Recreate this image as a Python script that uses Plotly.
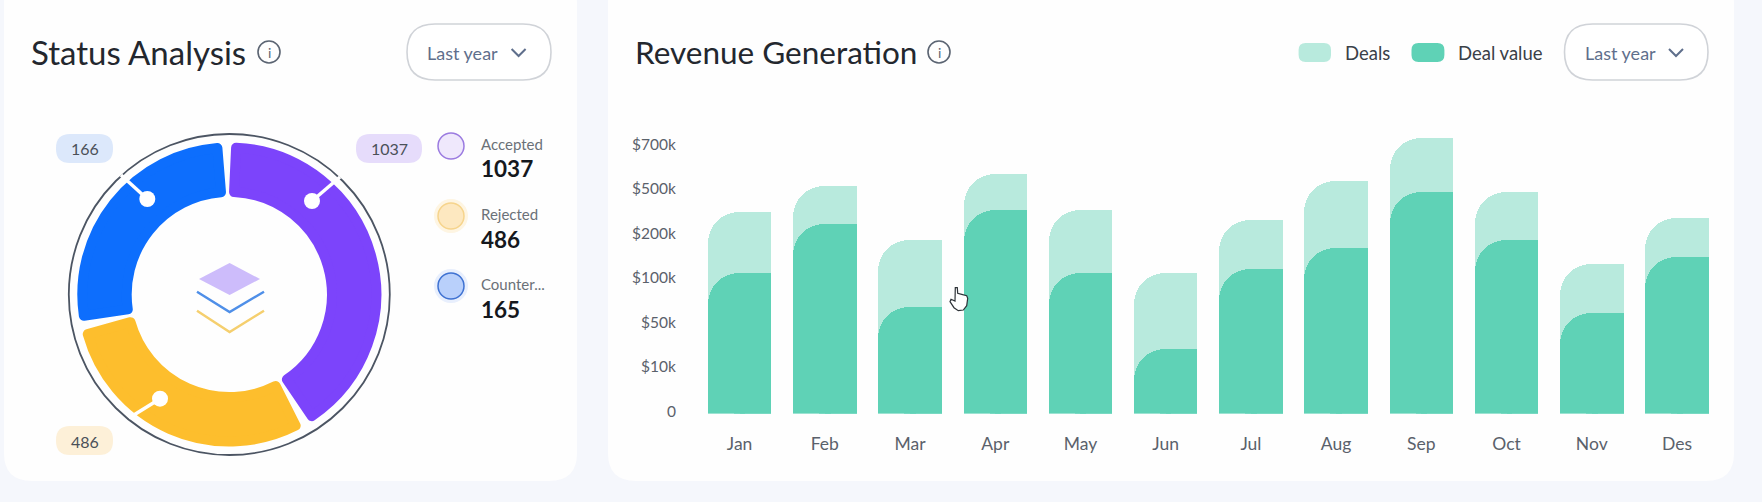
import numpy as np
import plotly.graph_objects as go

W, H = 1762, 502
FONT = "Lato"

# ---------- data ----------
months = ["Jan", "Feb", "Mar", "Apr", "May", "Jun", "Jul", "Aug", "Sep", "Oct", "Nov", "Des"]
deals = [360, 522, 191, 575, 372, 115, 304, 546, 740, 491, 137, 320]        # $k, as read
deal_value = [115, 277, 70, 372, 115, 28, 125, 171, 491, 191, 63, 151]       # $k, as read
tick_stops = [0, 10, 50, 100, 200, 500, 700, 900]
tick_labels = ["0", "$10k", "$50k", "$100k", "$200k", "$500k", "$700k"]

status_names = ["Accepted", "Rejected", "Counter..."]
status_counts = [1037, 486, 165]
status_pills = ["1037", "486", "166"]
slice_degrees = [143.2, 101.2, 93.7]   # drawn arc of each slice, as read
gap_degrees = 7.3
slice_colors = ["#7c44fb", "#fdbe2d", "#0d6efd"]


def px(x):
    return x / W


def py(y):
    return 1 - y / H


def rrect(x0, y0, x1, y1, r):
    """Rounded rectangle path, in paper fractions."""
    pts = [
        f"M {px(x0 + r)} {py(y0)}", f"L {px(x1 - r)} {py(y0)}",
        f"Q {px(x1)} {py(y0)} {px(x1)} {py(y0 + r)}", f"L {px(x1)} {py(y1 - r)}",
        f"Q {px(x1)} {py(y1)} {px(x1 - r)} {py(y1)}", f"L {px(x0 + r)} {py(y1)}",
        f"Q {px(x0)} {py(y1)} {px(x0)} {py(y1 - r)}", f"L {px(x0)} {py(y0 + r)}",
        f"Q {px(x0)} {py(y0)} {px(x0 + r)} {py(y0)}", "Z",
    ]
    return " ".join(pts)


shapes, notes = [], []


def add_rrect(x0, y0, x1, y1, r, fill, line=None, lw=0, layer="below"):
    shapes.append(dict(type="path", xref="paper", yref="paper", path=rrect(x0, y0, x1, y1, r),
                       fillcolor=fill, line=dict(color=line or "rgba(0,0,0,0)", width=lw), layer=layer))


def add_circle(cx, cy, r, fill="rgba(0,0,0,0)", line=None, lw=0, opacity=1, layer="above"):
    shapes.append(dict(type="circle", xref="paper", yref="paper",
                       x0=px(cx - r), x1=px(cx + r), y0=py(cy + r), y1=py(cy - r),
                       fillcolor=fill, opacity=opacity,
                       line=dict(color=line or "rgba(0,0,0,0)", width=lw), layer=layer))


def add_poly(points, fill=None, line=None, lw=0, layer="above"):
    d = "M " + " L ".join(f"{px(a)} {py(b)}" for a, b in points)
    if fill:
        d += " Z"
    shapes.append(dict(type="path", xref="paper", yref="paper", path=d,
                       fillcolor=fill or "rgba(0,0,0,0)",
                       line=dict(color=line or "rgba(0,0,0,0)", width=lw), layer=layer))


def add_text(x, y, s, size, color, anchor="left", bold=False):
    notes.append(dict(xref="paper", yref="paper", x=px(x), y=py(y), text=f"<b>{s}</b>" if bold else s,
                      showarrow=False, xanchor=anchor, yanchor="middle",
                      font=dict(family=FONT, size=size, color=color)))


# ---------- cards ----------
CARD = "#fefefe"
add_rrect(4, -24, 577, 481, 28, CARD)
add_rrect(608, -24, 1734, 481, 28, CARD)

# ---------- headers ----------
add_text(29, 52, "Status Analysis", 33, "#23272e")
add_text(633, 52, "Revenue Generation", 31.5, "#23272e")
for cx in (269, 939):
    add_circle(cx, 52, 11, line="#5b6472", lw=1.6)
    add_text(cx, 52, "i", 14, "#5b6472", anchor="center")
for x0, x1, tx, cvx in ((407, 551, 463, 518.6), (1564.5, 1708, 1620, 1676)):
    add_rrect(x0, 24, x1, 80, 28, "#ffffff", line="#d0d3d8", lw=1.6)
    add_text(tx, 53, "Last year", 18, "#5f6f8c", anchor="center")
    add_poly([(cvx - 7, 49), (cvx, 56), (cvx + 7, 49)], line="#5f6f8c", lw=2)

# ---------- revenue legend ----------
add_rrect(1298.6, 43, 1331, 62, 7, "#b8eadd")
add_text(1343, 53, "Deals", 18.5, "#3a4048")
add_rrect(1411.5, 43, 1444.4, 62, 7, "#5fd2b6")
add_text(1456, 53, "Deal value", 18.5, "#3a4048")

# ---------- donut decoration ----------
CX, CY = 229.3, 294.5
add_circle(CX, CY, 160.5, line="#4c5563", lw=1.8)
for (a, b, c, d) in ((312, 201, 340, 177), (147.3, 199, 121, 175), (160, 398.7, 129, 418)):
    add_poly([(a, b), (c, d)], line="#ffffff", lw=3.5)
    add_circle(a, b, 8, fill="#ffffff")
for x0, x1, y0, fill, s in ((56, 113, 134, "#dce8fb", status_pills[2]),
                            (356, 422, 134, "#e6dcfb", status_pills[0]),
                            (56, 113, 426, "#fdf0d8", status_pills[1])):
    add_rrect(x0, y0, x1, y0 + 29, 14, fill)
    add_text((x0 + x1) / 2, y0 + 15, s, 16, "#4a5058", anchor="center")
add_poly([(199, 279), (229.6, 263), (260, 279), (229.6, 295)], fill="#cdbcfb")
add_poly([(197, 291.7), (229.6, 312), (264, 291.7)], line="#4f8fe8", lw=2.4)
add_poly([(197, 310.7), (229.6, 332), (264, 310.7)], line="#f5cf6e", lw=2.4)

# ---------- status legend ----------
legend_style = [("#efe8fc", "#9b7be0", None), ("#fde8c0", "#f6d48c", "#fdeccb"), ("#b9d0fb", "#3f72d2", "#d5e2fc")]
for name, count, cy, (fill, line, glow) in zip(status_names, status_counts, (146, 216, 286), legend_style):
    if glow:
        add_circle(451, cy, 17, fill=glow, opacity=0.55)
    add_circle(451, cy, 13, fill=fill, line=line, lw=1.5)
    add_text(478.5, cy - 2, name, 15, "#6b7178")
    add_text(478.5, cy + 23, str(count), 22.5, "#15181d", bold=True)

# ---------- mouse pointer captured in the screenshot ----------
add_poly([(955.3, 287.7), (957.3, 287.7), (957.7, 293.3), (961.7, 294.3), (966.7, 295.7), (967.7, 298.3),
          (966.7, 305.7), (963.3, 310), (958.3, 310.7), (954, 307.7), (950, 301.7), (951, 299.3), (955, 301)],
         fill="#ffffff", line="#2e3338", lw=1.2)

# ---------- traces ----------
fig = go.Figure()

pie_values, pie_labels, pie_colors, pie_lines, pie_widths = [], [], [], [], []
for i, (name, deg, col) in enumerate(zip(status_names, slice_degrees, slice_colors)):
    pie_values += [deg, gap_degrees]
    pie_labels += [name, f"gap{i}"]
    pie_colors += [col, "rgba(0,0,0,0)"]
    pie_lines += [col, "rgba(0,0,0,0)"]
    pie_widths += [10, 0]
R_OUT = 147
R_IN = 102.6
fig.add_trace(go.Pie(
    values=pie_values, labels=pie_labels, sort=False, direction="clockwise",
    rotation=2.65, hole=R_IN / R_OUT, textinfo="none", hoverinfo="skip", showlegend=False,
    marker=dict(colors=pie_colors, line=dict(color=pie_lines, width=pie_widths)),
    domain=dict(x=[px(CX - R_OUT), px(CX + R_OUT)], y=[py(CY + R_OUT), py(CY - R_OUT)]),
))

stops_idx = list(range(len(tick_stops)))
deals_pos = np.interp(deals, tick_stops, stops_idx)
value_pos = np.interp(deal_value, tick_stops, stops_idx)
zero_base = [0] * len(months)
BAR_W = 0.745
for pos, color, name in ((deals_pos, "#b8eadd", "Deals"), (value_pos, "#5fd2b6", "Deal value")):
    # rounded bar (an explicit base keeps the rounding on the shorter, overlaid series)
    fig.add_trace(go.Bar(x=months, y=pos, base=zero_base, name=name, width=BAR_W,
                         marker=dict(color=color, cornerradius=31, line_width=0),
                         showlegend=False, hoverinfo="skip"))
    # square top-right corner
    fig.add_trace(go.Bar(x=months, y=pos, base=zero_base, name=name, width=BAR_W / 2, offset=0,
                         marker=dict(color=color, line_width=0),
                         showlegend=False, hoverinfo="skip"))
    # square foot
    fig.add_trace(go.Bar(x=months, y=pos * 0.5, base=zero_base, name=name, width=BAR_W,
                         marker=dict(color=color, line_width=0),
                         showlegend=False, hoverinfo="skip"))

TOP, BOTTOM = 120, 413.5
UNIT = 44.5
fig.update_layout(
    width=W, height=H, autosize=False, margin=dict(l=0, r=0, t=0, b=0),
    paper_bgcolor="#f5f7fc", plot_bgcolor="rgba(0,0,0,0)", barmode="overlay", bargap=0,
    font=dict(family=FONT),
    shapes=shapes, annotations=notes,
    xaxis=dict(domain=[px(697), px(1719.6)], range=[-0.5, 11.5], type="category", showgrid=False, zeroline=False,
               automargin=False, showline=False, ticks="outside", ticklen=14, tickcolor="rgba(0,0,0,0)",
               tickfont=dict(family=FONT, size=17.5, color="#5a616b")),
    yaxis=dict(domain=[py(BOTTOM), py(TOP)], range=[0, (BOTTOM - TOP) / UNIT], showgrid=False, zeroline=False,
               automargin=False, showline=False, tickmode="array", tickvals=stops_idx[:len(tick_labels)], ticktext=tick_labels,
               ticks="outside", ticklen=17, tickcolor="rgba(0,0,0,0)", ticklabelshift=-2,
               tickfont=dict(family=FONT, size=15.5, color="#5a616b")),
)

css = ("var s=document.createElement('style');"
       "s.textContent='html,body{margin:0;padding:0;overflow:hidden}.slice path{stroke-linejoin:round}';"
       "document.head.appendChild(s);")
fig.write_html("out.html", post_script=css, config=dict(displayModeBar=False))
